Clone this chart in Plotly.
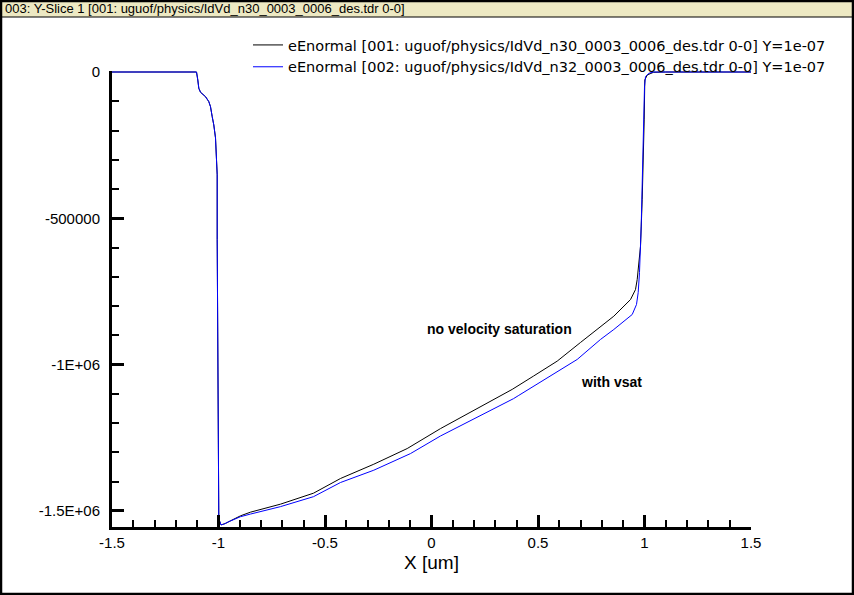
import plotly.graph_objects as go

# ---------------- data ----------------
x_novsat = [-1.5, -1.1033, -1.0972, -1.0925, -1.0845, -1.0610, -1.0455, -1.0376, -1.0296,
            -1.0221, -1.0141, -1.0094, -1.0061, -1.0061, -1.0033, -0.9986, -0.9880,
            -0.9670, -0.9437, -0.8967, -0.8498, -0.7089, -0.5540, -0.4272, -0.2709,
            -0.1141, 0.0423, 0.1986, 0.3789, 0.4789, 0.5901, 0.6995, 0.7934, 0.8559,
            0.9343, 0.9577, 0.9657, 0.9732, 0.9812, 0.9892, 0.9939, 0.9986, 1.0014,
            1.0127, 1.0423, 1.0986, 1.5]
y_novsat = [0, 0, -27300, -55600, -69200, -84300, -101300, -118400, -152500,
            -180800, -225100, -306000, -351400, -573100, -924500, -1528300, -1548000,
            -1543000, -1534000, -1517000, -1504500, -1477100, -1439600, -1389400, -1340600,
            -1287100, -1218800, -1155400, -1084800, -1039400, -988300, -924500, -868900, -834700,
            -777800, -743700, -709500, -664200, -596000, -436600, -334300, -163700, -27300,
            -10200, -1000, 0, 0]

x_vsat = [-1.5, -1.1033, -1.0972, -1.0925, -1.0845, -1.0610, -1.0455, -1.0376, -1.0296,
          -1.0221, -1.0141, -1.0094, -1.0061, -1.0061, -1.0033, -0.9986, -0.9880,
          -0.9765, -0.9530, -0.8967, -0.8500, -0.7090, -0.5540, -0.4272, -0.2709,
          -0.0986, 0.0423, 0.1986, 0.3850, 0.4099, 0.5587, 0.6840, 0.7934, 0.8404, 0.8559,
          0.9423, 0.9624, 0.9704, 0.9765, 0.9845, 0.9920, 1.0000, 1.0047, 1.0202,
          1.0423, 1.5]
y_vsat = [0, 0, -27300, -55600, -69200, -84300, -101300, -118400, -152500,
          -180800, -225100, -306000, -351400, -573100, -924500, -1528300, -1548000,
          -1546000, -1537500, -1520000, -1511000, -1485600, -1451500, -1403100, -1361100,
          -1304200, -1244100, -1187100, -1116500, -1105300, -1039400, -982500, -914200, -890400, -880100,
          -828900, -794800, -753900, -685700, -527700, -300200, -50100, -16000, -4400,
          0, 0]

name_novsat = "eEnormal [001: uguof/physics/IdVd_n30_0003_0006_des.tdr 0-0] Y=1e-07"
name_vsat = "eEnormal [002: uguof/physics/IdVd_n32_0003_0006_des.tdr 0-0] Y=1e-07"
frame_title = "003: Y-Slice 1 [001: uguof/physics/IdVd_n30_0003_0006_des.tdr 0-0]"

y_tickvals = [0, -500000, -1000000, -1500000]
y_ticktext = ["0", "-500000", "-1E+06", "-1.5E+06"]
x_tickvals = [-1.5, -1, -0.5, 0, 0.5, 1, 1.5]
x_ticktext = ["-1.5", "-1", "-0.5", "0", "0.5", "1", "1.5"]

# ---------------- layout geometry ----------------
W, H = 854, 595
L, R, T, B = 112, 103, 71, 68
PW, PH = W - L - R, H - T - B

def paper_x(px):
    return (px - L) / PW

def paper_y(py):
    return 1 + (T - py) / PH

FONT = "Liberation Sans, Arial, sans-serif"

fig = go.Figure()
fig.add_trace(go.Scatter(x=x_novsat, y=y_novsat, mode="lines", name=name_novsat,
                         line=dict(color="#000000", width=1)))
fig.add_trace(go.Scatter(x=x_vsat, y=y_vsat, mode="lines", name=name_vsat,
                         line=dict(color="#0000FF", width=1)))

axis_common = dict(showgrid=False, zeroline=False, showline=True, linecolor="black",
                   linewidth=3, ticks="inside", tickcolor="black", tickwidth=3,
                   ticklen=12, mirror=False,
                   tickfont=dict(family=FONT, size=15, color="black"))

fig.update_xaxes(range=[-1.5, 1.5], tickmode="array", tickvals=x_tickvals,
                 ticktext=x_ticktext,
                 minor=dict(dtick=0.1, tick0=-1.5, ticks="inside", ticklen=7,
                            tickwidth=1.5, tickcolor="black"),
                 title=dict(text="X [um]", font=dict(family=FONT, size=19, color="black"),
                            standoff=6),
                 **axis_common)
fig.update_yaxes(range=[-1555200, 3411], tickmode="array", tickvals=y_tickvals,
                 ticktext=y_ticktext, ticklabelstandoff=6,
                 minor=dict(dtick=100000, tick0=0, ticks="inside", ticklen=7,
                            tickwidth=1.5, tickcolor="black"),
                 **axis_common)

shapes = [
    # title bar
    dict(type="rect", xref="paper", yref="paper", x0=paper_x(0), x1=paper_x(W),
         y0=paper_y(17), y1=paper_y(0), fillcolor="#EDE9C3",
         line=dict(color="black", width=1), layer="below"),
    # outer frame
    dict(type="rect", xref="paper", yref="paper", x0=paper_x(1), x1=paper_x(W - 1),
         y0=paper_y(H - 1), y1=paper_y(1), fillcolor="rgba(0,0,0,0)",
         line=dict(color="black", width=2.5), layer="above"),
]

annotations = [
    dict(text=frame_title, xref="paper", yref="paper", x=paper_x(3), y=paper_y(8.5),
         xanchor="left", yanchor="middle", showarrow=False,
         font=dict(family=FONT, size=13, color="black")),
    dict(text="<b>no velocity saturation</b>", xref="x", yref="y", x=0.317, y=-880100,
         xanchor="center", yanchor="middle", showarrow=False,
         font=dict(family=FONT, size=14, color="black")),
    dict(text="<b>with vsat</b>", xref="x", yref="y", x=0.847, y=-1060900,
         xanchor="center", yanchor="middle", showarrow=False,
         font=dict(family=FONT, size=14, color="black")),
]

fig.update_layout(
    width=W, height=H,
    margin=dict(l=L, r=R, t=T, b=B, pad=0),
    paper_bgcolor="white", plot_bgcolor="white",
    showlegend=True,
    legend=dict(x=paper_x(248), y=paper_y(29), xanchor="left", yanchor="top",
                bgcolor="rgba(0,0,0,0)", borderwidth=0,
                font=dict(family="DejaVu Sans, sans-serif", size=14.5, color="black")),
    shapes=shapes,
    annotations=annotations,
)

fig.write_html("out.html", config={"displayModeBar": False},
               post_script="document.body.style.margin='0px';document.body.style.overflow='hidden';")
